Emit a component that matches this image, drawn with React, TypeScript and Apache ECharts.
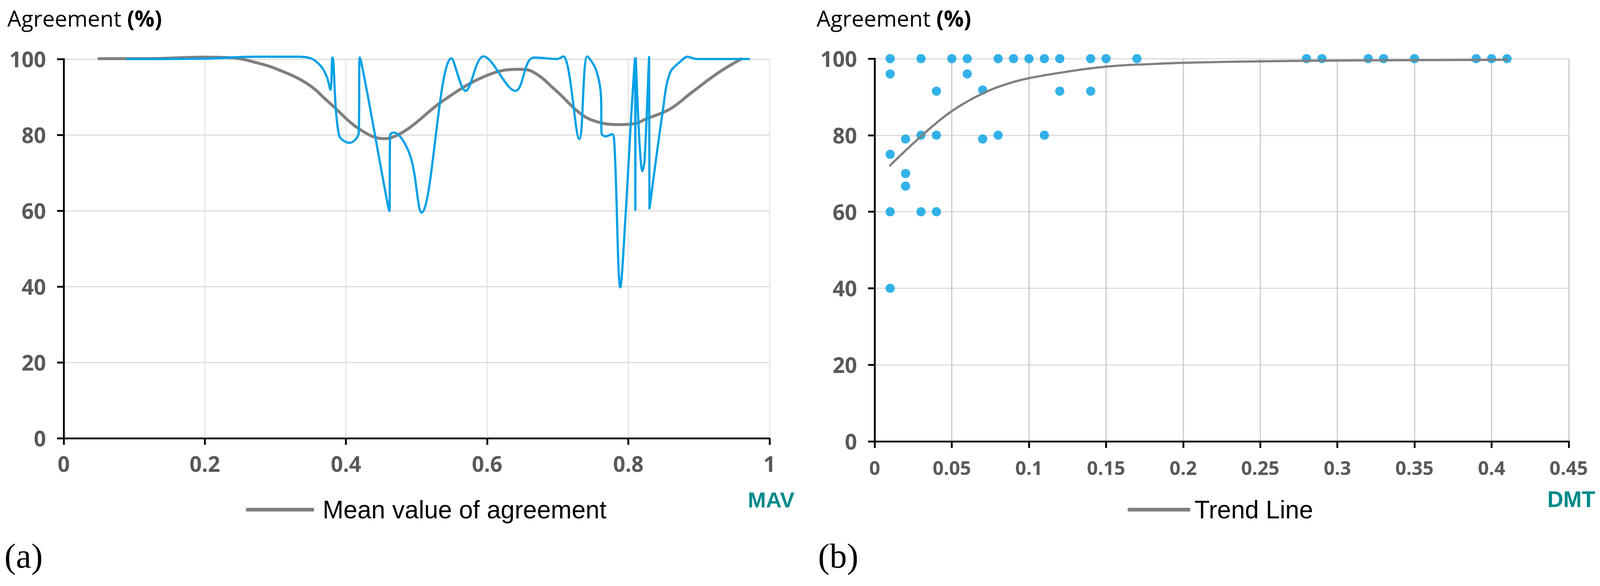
import React, { useEffect, useRef } from 'react';
import * as echarts from 'echarts';

// ---------- data ----------
const agreementTicks = [0, 20, 40, 60, 80, 100];
const mavTicks = [0, 0.2, 0.4, 0.6, 0.8, 1];
const dmtTicks = [0, 0.05, 0.1, 0.15, 0.2, 0.25, 0.3, 0.35, 0.4, 0.45];

// (a) blue line: agreement vs MAV
const mavBlueX = [0.09, 0.2, 0.27, 0.33, 0.35, 0.365, 0.373, 0.378, 0.3808, 0.39, 0.405, 0.418, 0.4195, 0.4615, 0.4625, 0.468, 0.491, 0.507, 0.5496, 0.5695, 0.5947, 0.64, 0.6587, 0.6667, 0.6985, 0.708, 0.7306, 0.742, 0.7548, 0.7615, 0.762, 0.7675, 0.777, 0.7805, 0.7887, 0.7966, 0.8034, 0.8095, 0.81, 0.8105, 0.82, 0.823, 0.8295, 0.83, 0.8487, 0.859, 0.876, 0.8835, 0.897, 0.971];
const mavBlueY = [100, 100.1, 100.6, 100.6, 100.2, 98, 95.2, 91.9, 100.4, 80, 77.9, 80.5, 100.4, 59.9, 80, 80.6, 74.5, 59.5, 100.2, 91.6, 100.7, 91.6, 99.4, 100.4, 100, 100.7, 78.9, 100.7, 96.9, 89.5, 80.5, 79.6, 80.2, 77, 39.8, 60.2, 82.7, 100.2, 60.2, 100.2, 70.4, 73, 100.5, 60.6, 86.1, 96.3, 99.7, 100.6, 100, 100];

// (a) grey line: mean value of agreement
const meanX = [0.05, 0.12, 0.2, 0.24, 0.27, 0.3, 0.345, 0.378, 0.42, 0.455, 0.47, 0.491, 0.539, 0.6, 0.645, 0.665, 0.698, 0.733, 0.757, 0.786, 0.81, 0.824, 0.859, 0.89, 0.9285, 0.96];
const meanY = [100.1, 100.1, 100.5, 100.3, 99.2, 97.5, 93.5, 88.2, 81.4, 79, 79.7, 82, 89.2, 95.7, 97.3, 96.6, 91.6, 85.5, 83.4, 82.7, 83, 84.1, 86.8, 91.2, 96.5, 100];

// (b) scatter: agreement vs DMT
const dmtX = [0.01, 0.01, 0.01, 0.01, 0.01, 0.02, 0.02, 0.02, 0.03, 0.03, 0.03, 0.04, 0.04, 0.04, 0.05, 0.06, 0.06, 0.07, 0.07, 0.08, 0.08, 0.09, 0.1, 0.11, 0.11, 0.12, 0.12, 0.14, 0.14, 0.15, 0.17, 0.28, 0.29, 0.32, 0.33, 0.35, 0.39, 0.4, 0.41];
const dmtY = [100, 96, 75, 60, 40, 79, 70, 66.7, 100, 80, 60, 91.5, 80, 60, 100, 100, 96, 91.8, 79, 100, 80, 100, 100, 100, 80, 100, 91.5, 100, 91.5, 100, 100, 100, 100, 100, 100, 100, 100, 100, 100];

// (b) trend line
const trendX = [0.01, 0.02, 0.03, 0.04, 0.05, 0.06, 0.07, 0.08, 0.09, 0.1, 0.12, 0.15, 0.18, 0.21, 0.25, 0.3, 0.35, 0.41];
const trendY = [72.1, 76.0, 79.7, 83.2, 86.3, 88.8, 90.9, 92.6, 93.9, 94.9, 96.3, 97.9, 98.6, 99.0, 99.3, 99.5, 99.6, 99.7];

const zip = (xs: number[], ys: number[]) => xs.map((x, i) => [x, ys[i]]);

const LABEL_FONT = "'Open Sans', 'Liberation Sans', sans-serif";
const LEGEND_FONT = "'Liberation Sans', Arial, sans-serif";
const SERIF_FONT = "'Liberation Serif', 'DejaVu Serif', serif";
const GREY_TEXT = '#595959';
const TEAL = '#00898A';

// design size of the reference
const DW = 4346;
const DH = 1499;

export default function App() {
  const ref = useRef<HTMLDivElement>(null);

  useEffect(() => {
    const el = ref.current;
    if (!el) return;
    const W = el.clientWidth || DW;
    const H = el.clientHeight || DH;
    const sx = W / DW;
    const sy = H / DH;
    const sf = Math.min(sx, sy);
    const X = (v: number) => v * sx;
    const Y = (v: number) => v * sy;
    const F = (v: number) => v * sf;

    const chart = echarts.init(el, undefined, { renderer: 'svg', width: W, height: H });

    const axisBase = () => ({
      axisLine: { show: true, onZero: false, lineStyle: { color: '#000', width: F(5) } },
      axisTick: { show: true, inside: false, length: F(18), lineStyle: { color: '#000', width: F(5) } },
    });
    const tickLabel = (size: number, margin: number, fmt?: (v: number) => string) => ({
      fontSize: F(size), fontWeight: 'bold', color: GREY_TEXT, fontFamily: LABEL_FONT, margin: F(margin),
      ...(fmt ? { formatter: fmt } : {}),
    });
    const dec = (v: number) => String(Math.round(v * 100) / 100);
    const titleRich = {
      a: { fontSize: F(60), fontFamily: LABEL_FONT, color: GREY_TEXT },
      b: { fontSize: F(60), fontFamily: LABEL_FONT, color: TEAL, fontWeight: 'bold' },
    };

    const option: any = {
      animation: false,
      backgroundColor: '#ffffff',
      grid: [
        { left: X(173), top: Y(151), width: X(1917), height: Y(970), containLabel: false, outerBoundsMode: 'none' },
        { left: X(2376), top: Y(150), width: X(1885), height: Y(979), containLabel: false, outerBoundsMode: 'none' },
      ],
      xAxis: [
        {
          type: 'value', gridIndex: 0,
          min: mavTicks[0], max: mavTicks[mavTicks.length - 1], interval: 0.2,
          ...axisBase(),
          axisLabel: tickLabel(58, 40, dec),
          splitLine: { show: true, lineStyle: { color: '#E4E4E4', width: F(3) } },
        },
        {
          type: 'value', gridIndex: 1,
          min: dmtTicks[0], max: dmtTicks[dmtTicks.length - 1], interval: 0.05,
          ...axisBase(),
          axisLabel: tickLabel(52, 45, dec),
          splitLine: { show: true, lineStyle: { color: '#C8C8C8', width: F(3) } },
        },
      ],
      yAxis: [
        {
          type: 'value', gridIndex: 0,
          min: agreementTicks[0], max: agreementTicks[agreementTicks.length - 1], interval: 20,
          ...axisBase(),
          axisLabel: tickLabel(58, 48),
          splitLine: { show: true, lineStyle: { color: '#DCDCDC', width: F(3) } },
        },
        {
          type: 'value', gridIndex: 1,
          min: agreementTicks[0], max: agreementTicks[agreementTicks.length - 1], interval: 20,
          ...axisBase(),
          axisLabel: tickLabel(58, 48),
          splitLine: { show: true, lineStyle: { color: '#DCDCDC', width: F(3) } },
        },
      ],
      legend: [
        {
          data: [{ name: 'Mean value of agreement', icon: 'roundRect' }],
          left: X(668), top: Y(1266), padding: 0, itemWidth: X(185), itemHeight: F(10), selectedMode: false,
          textStyle: { fontSize: F(68), fontFamily: LEGEND_FONT, color: '#000', lineHeight: F(80), padding: [0, 0, 0, X(18)] },
        },
        {
          data: [{ name: 'Trend Line', icon: 'roundRect' }],
          left: X(3063), top: Y(1266), padding: 0, itemWidth: X(170), itemHeight: F(10), selectedMode: false,
          textStyle: { fontSize: F(68), fontFamily: LEGEND_FONT, color: '#000', lineHeight: F(80), padding: [0, 0, 0, X(6)] },
        },
      ],
      graphic: [
        {
          type: 'text', x: X(20), y: Y(46),
          style: { text: '{a|Agreement }{b|(%)}', align: 'left', verticalAlign: 'middle', rich: titleRich },
        },
        {
          type: 'text', x: X(2218), y: Y(46),
          style: { text: '{a|Agreement }{b|(%)}', align: 'left', verticalAlign: 'middle', rich: titleRich },
        },
        {
          type: 'text', x: X(2158), y: Y(1279),
          style: { text: 'MAV', align: 'right', verticalAlign: 'middle', fontSize: F(59), fontWeight: 'bold', fontFamily: LEGEND_FONT, fill: TEAL },
        },
        {
          type: 'text', x: X(4333), y: Y(1277),
          style: { text: 'DMT', align: 'right', verticalAlign: 'middle', fontSize: F(60), fontWeight: 'bold', fontFamily: LEGEND_FONT, fill: TEAL },
        },
        {
          type: 'text', x: X(12), y: Y(1422),
          style: { text: '(a)', align: 'left', verticalAlign: 'middle', fontSize: F(94), fontFamily: SERIF_FONT, fill: '#000' },
        },
        {
          type: 'text', x: X(2222), y: Y(1422),
          style: { text: '(b)', align: 'left', verticalAlign: 'middle', fontSize: F(94), fontFamily: SERIF_FONT, fill: '#000' },
        },
      ],
      series: [
        {
          type: 'line', name: 'Mean value of agreement', xAxisIndex: 0, yAxisIndex: 0,
          data: zip(meanX, meanY), smooth: 0.4, showSymbol: false, clip: false, z: 2,
          color: '#7F7F7F', itemStyle: { color: '#7F7F7F' },
          lineStyle: { color: '#7F7F7F', width: F(8), cap: 'round' },
        },
        {
          type: 'line', name: 'Agreement', xAxisIndex: 0, yAxisIndex: 0,
          data: zip(mavBlueX, mavBlueY), smooth: 0.35, showSymbol: false, clip: false, z: 3,
          color: '#00A0E6',
          lineStyle: { color: '#00A0E6', width: F(6), cap: 'round', join: 'round' },
        },
        {
          type: 'scatter', name: 'Agreement DMT', xAxisIndex: 1, yAxisIndex: 1,
          data: zip(dmtX, dmtY), symbolSize: F(25), clip: false, z: 2,
          itemStyle: { color: '#009FE3' },
        },
        {
          type: 'line', name: 'Trend Line', xAxisIndex: 1, yAxisIndex: 1,
          data: zip(trendX, trendY), smooth: true, showSymbol: false, clip: false, z: 3,
          color: '#7F7F7F', itemStyle: { color: '#7F7F7F' },
          lineStyle: { color: '#7F7F7F', width: F(6), cap: 'round' },
        },
      ],
    };

    chart.setOption(option);
    return () => chart.dispose();
  }, []);

  return (
    <div
      ref={ref}
      style={{ position: 'fixed', left: 0, top: 0, width: '100vw', height: '100vh', background: '#fff', overflow: 'hidden' }}
    />
  );
}
